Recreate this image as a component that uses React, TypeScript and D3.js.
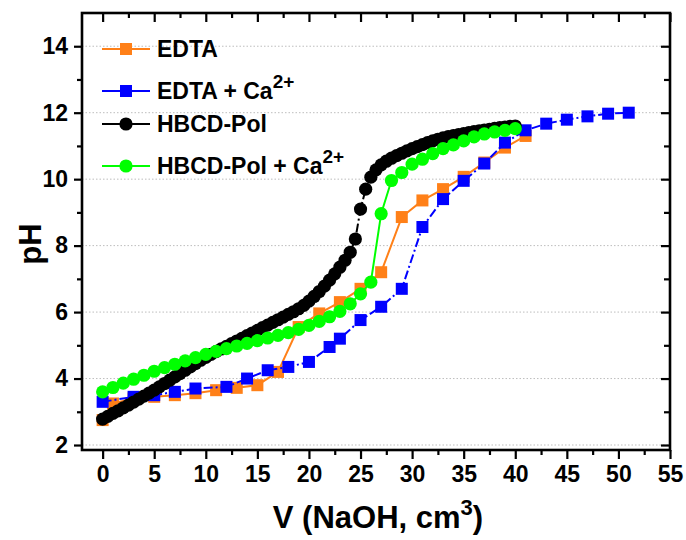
import React, { useEffect, useRef } from "react";
import * as d3 from "d3";

// EDTA
const edtaV = [0, 1, 3, 5, 7, 9, 11, 13, 15, 17, 19, 21, 23, 25, 27, 29, 31, 33, 35, 37, 39, 41];
const edtaPH = [2.75, 3.25, 3.4, 3.45, 3.5, 3.56, 3.65, 3.72, 3.8, 4.2, 5.55, 5.96, 6.3, 6.7, 7.2, 8.86, 9.36, 9.7, 10.07, 10.5, 10.95, 11.3];

// EDTA + Ca2+
const edtaCaV = [0, 3, 5, 7, 9, 12, 14, 16, 18, 20, 22, 23, 25, 27, 29, 31, 33, 35, 37, 39, 41, 43, 45, 47, 49, 51];
const edtaCaPH = [3.3, 3.45, 3.5, 3.6, 3.7, 3.75, 4.0, 4.25, 4.35, 4.5, 4.95, 5.2, 5.76, 6.16, 6.7, 8.56, 9.4, 9.95, 10.47, 11.1, 11.47, 11.67, 11.79, 11.89, 11.97, 12.0];

// HBCD-Pol
const polV = [
  0, 0.5, 1, 1.5, 2, 2.5, 3, 3.5, 4, 4.5, 5, 5.5, 6, 6.5, 7, 7.5, 8, 8.5, 9, 9.5,
  10, 10.5, 11, 11.5, 12, 12.5, 13, 13.5, 14, 14.5, 15, 15.5, 16, 16.5, 17, 17.5, 18, 18.5, 19, 19.5,
  20, 20.5, 21, 21.5, 22, 22.5, 23, 23.5, 24, 24.5, 25, 25.5, 26, 26.5, 27, 27.5, 28, 28.5, 29, 29.5,
  30, 30.5, 31, 31.5, 32, 32.5, 33, 33.5, 34, 34.5, 35, 35.5, 36, 36.5, 37, 37.5, 38, 38.5, 39, 39.5, 40
];
const polPH = [
  2.78, 2.86, 2.95, 3.03, 3.12, 3.2, 3.29, 3.38, 3.47, 3.56, 3.65, 3.75, 3.85, 3.95, 4.05, 4.15, 4.25, 4.35, 4.45, 4.55,
  4.64, 4.73, 4.81, 4.89, 4.97, 5.05, 5.13, 5.21, 5.29, 5.37, 5.45, 5.53, 5.61, 5.69, 5.77, 5.85, 5.93, 6.01, 6.1, 6.2,
  6.33, 6.47, 6.62, 6.78, 6.96, 7.15, 7.35, 7.56, 7.8, 8.2, 9.1, 9.7, 10.06, 10.28, 10.43, 10.54, 10.63, 10.71, 10.78, 10.85,
  10.92, 10.98, 11.04, 11.1, 11.15, 11.2, 11.24, 11.28, 11.31, 11.34, 11.37, 11.4, 11.43, 11.45, 11.48, 11.5, 11.53, 11.55, 11.57, 11.59, 11.6
];

// HBCD-Pol + Ca2+
const polCaV = [
  0, 1, 2, 3, 4, 5, 6, 7, 8, 9, 10, 11, 12, 13, 14, 15, 16, 17, 18, 19, 20,
  21, 22, 23, 24, 25, 26, 27, 28, 29, 30, 31, 32, 33, 34, 35, 36, 37, 38, 39, 40
];
const polCaPH = [
  3.6, 3.73, 3.86, 3.98, 4.1, 4.22, 4.33, 4.43, 4.53, 4.63, 4.73, 4.82, 4.9, 4.98, 5.06, 5.14, 5.22, 5.3, 5.38, 5.48, 5.6,
  5.72, 5.86, 6.02, 6.25, 6.55, 6.9, 8.96, 9.96, 10.2, 10.45, 10.6, 10.77, 10.92, 11.03, 11.15, 11.27, 11.36, 11.42, 11.47, 11.52
];

const xMajor = [0, 5, 10, 15, 20, 25, 30, 35, 40, 45, 50, 55];
const xMinor = [2.5, 7.5, 12.5, 17.5, 22.5, 27.5, 32.5, 37.5, 42.5, 47.5, 52.5];
const yMajor = [2, 4, 6, 8, 10, 12, 14];
const yMinor = [3, 5, 7, 9, 11, 13];

const series = [
  { name: "EDTA", sup: "", v: edtaV, ph: edtaPH, color: "#ff8018", shape: "square", dash: null },
  { name: "EDTA + Ca", sup: "2+", v: edtaCaV, ph: edtaCaPH, color: "#0000ff", shape: "square", dash: "9,3,2,3" },
  { name: "HBCD-Pol", sup: "", v: polV, ph: polPH, color: "#000000", shape: "circle", dash: "9,3,2,3" },
  { name: "HBCD-Pol + Ca", sup: "2+", v: polCaV, ph: polCaPH, color: "#00ff00", shape: "circle", dash: null },
];

const FONT = "'Liberation Sans', Arial, sans-serif";

function Chart() {
  const chart = useRef(null);

  useEffect(() => {
    const width = 686;
    const height = 540;
    const margin = { top: 13, right: 16, bottom: 90, left: 82 };

    const svg = d3.select(chart.current)
      .attr("width", width)
      .attr("height", height)
      .style("font-family", FONT);

    const x = d3.scaleLinear().domain([-2, 55]).range([margin.left, width - margin.right]);
    const y = d3.scaleLinear().domain([1.85, 15]).range([height - margin.bottom, margin.top]);

    // dotted grid
    svg.append("g")
      .selectAll("line")
      .data(yMajor)
      .enter()
      .append("line")
        .attr("x1", x(-2))
        .attr("x2", x(55))
        .attr("y1", d => y(d))
        .attr("y2", d => y(d))
        .attr("stroke", "#bdbdbd")
        .attr("stroke-width", 1)
        .attr("stroke-dasharray", "1.5,2");

    const axisStyle = (g, labels) => {
      g.select(".domain").remove();
      g.selectAll(".tick line").attr("stroke", "#000").attr("stroke-width", 2.2);
      if (labels) {
        g.selectAll(".tick text")
          .attr("fill", "#000")
          .style("font-size", "23px")
          .style("font-weight", "bold")
          .style("font-family", FONT);
      } else {
        g.selectAll(".tick text").remove();
      }
    };

    const bottomY = y(1.85);
    const topY = y(15);
    const leftX = x(-2);
    const rightX = x(55);

    // bottom
    svg.append("g").attr("transform", `translate(0,${bottomY})`)
      .call(d3.axisBottom(x).tickValues(xMajor).tickSize(9).tickPadding(7))
      .call(g => axisStyle(g, true));
    svg.append("g").attr("transform", `translate(0,${bottomY})`)
      .call(d3.axisBottom(x).tickValues(xMinor).tickSize(5))
      .call(g => axisStyle(g, false));
    // top (inward)
    svg.append("g").attr("transform", `translate(0,${topY})`)
      .call(d3.axisTop(x).tickValues(xMajor).tickSize(-9))
      .call(g => axisStyle(g, false));
    svg.append("g").attr("transform", `translate(0,${topY})`)
      .call(d3.axisTop(x).tickValues(xMinor).tickSize(-5))
      .call(g => axisStyle(g, false));
    // left
    svg.append("g").attr("transform", `translate(${leftX},0)`)
      .call(d3.axisLeft(y).tickValues(yMajor).tickSize(8).tickPadding(6))
      .call(g => axisStyle(g, true));
    svg.append("g").attr("transform", `translate(${leftX},0)`)
      .call(d3.axisLeft(y).tickValues(yMinor).tickSize(5))
      .call(g => axisStyle(g, false));
    // right (inward)
    svg.append("g").attr("transform", `translate(${rightX},0)`)
      .call(d3.axisRight(y).tickValues(yMajor).tickSize(-9))
      .call(g => axisStyle(g, false));
    svg.append("g").attr("transform", `translate(${rightX},0)`)
      .call(d3.axisRight(y).tickValues(yMinor).tickSize(-6))
      .call(g => axisStyle(g, false));

    // frame
    svg.append("rect")
      .attr("x", leftX)
      .attr("y", topY)
      .attr("width", rightX - leftX)
      .attr("height", bottomY - topY)
      .attr("fill", "none")
      .attr("stroke", "#000")
      .attr("stroke-width", 2.6);

    // series
    const line = d3.line().x(d => x(d[0])).y(d => y(d[1]));
    const sq = 12;
    const r = 6.6;

    series.forEach(s => {
      const pts = s.v.map((v, i) => [v, s.ph[i]]);
      const g = svg.append("g");
      g.append("path")
        .datum(pts)
        .attr("d", line)
        .attr("fill", "none")
        .attr("stroke", s.color)
        .attr("stroke-width", 2)
        .attr("stroke-dasharray", s.dash);
      if (s.shape === "square") {
        g.selectAll("rect")
          .data(pts)
          .enter()
          .append("rect")
            .attr("x", d => x(d[0]) - sq / 2)
            .attr("y", d => y(d[1]) - sq / 2)
            .attr("width", sq)
            .attr("height", sq)
            .attr("fill", s.color);
      } else {
        g.selectAll("circle")
          .data(pts)
          .enter()
          .append("circle")
            .attr("cx", d => x(d[0]))
            .attr("cy", d => y(d[1]))
            .attr("r", r)
            .attr("fill", s.color);
      }
    });

    // legend
    const legendRows = [49, 91, 124, 166];
    const legend = svg.append("g");
    series.forEach((s, i) => {
      const cy = legendRows[i];
      const row = legend.append("g");
      row.append("line")
        .attr("x1", 102).attr("x2", 150)
        .attr("y1", cy).attr("y2", cy)
        .attr("stroke", s.color)
        .attr("stroke-width", 2);
      if (s.shape === "square") {
        row.append("rect")
          .attr("x", 126 - sq / 2).attr("y", cy - sq / 2)
          .attr("width", sq).attr("height", sq)
          .attr("fill", s.color);
      } else {
        row.append("circle")
          .attr("cx", 126).attr("cy", cy).attr("r", r)
          .attr("fill", s.color);
      }
      const t = row.append("text")
        .attr("x", 157)
        .attr("y", cy + 8)
        .attr("fill", "#000")
        .style("font-size", "23px")
        .style("font-weight", "bold");
      t.append("tspan").text(s.name);
      if (s.sup) {
        t.append("tspan")
          .attr("dy", -11)
          .style("font-size", "19px")
          .text(s.sup);
      }
    });

    // axis titles
    const xt = svg.append("text")
      .attr("x", (leftX + rightX) / 2 + 2)
      .attr("y", 528)
      .attr("text-anchor", "middle")
      .attr("fill", "#000")
      .style("font-size", "31px")
      .style("font-weight", "bold");
    xt.append("tspan").text("V (NaOH, cm");
    xt.append("tspan").attr("dy", -13).style("font-size", "22px").text("3");
    xt.append("tspan").attr("dy", 13).text(")");

    svg.append("text")
      .attr("transform", `translate(41,244) rotate(-90)`)
      .attr("text-anchor", "middle")
      .attr("fill", "#000")
      .style("font-size", "31px")
      .style("font-weight", "bold")
      .text("pH");

    return () => {
      svg.selectAll("*").remove();
    };
  }, []);

  return (
    <svg ref={chart} style={{ position: "absolute", left: 0, top: 0 }}></svg>
  );
}

export default function App() {
  return <Chart />;
}
